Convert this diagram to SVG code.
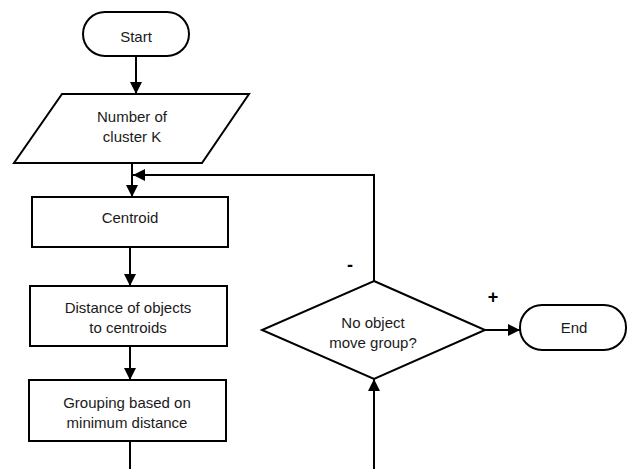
<svg xmlns="http://www.w3.org/2000/svg" width="629" height="469" viewBox="0 0 629 469">
<style>
.s{fill:#fff;stroke:#000;stroke-width:2}
.c{fill:none;stroke:#000;stroke-width:2}
text{font-family:"Liberation Sans",Arial,sans-serif;font-size:15px;fill:#1a1a1a;text-anchor:middle}
.l{font-size:18px;font-weight:bold;fill:#000}
</style>
<defs>
<marker id="ah" viewBox="0 0 12 12" refX="12" refY="6" markerWidth="12" markerHeight="12" markerUnits="userSpaceOnUse" orient="auto">
<path d="M0,0 L12,6 L0,12 Z" fill="#000"/>
</marker>
</defs>
<rect width="629" height="469" fill="#fff"/>
<g id="connectors">
<path class="c" d="M136,56 V94" marker-end="url(#ah)"/>
<path class="c" d="M132,163 V197" marker-end="url(#ah)"/>
<path class="c" d="M374,281 V175 H133" marker-end="url(#ah)"/>
<path class="c" d="M130,247 V286" marker-end="url(#ah)"/>
<path class="c" d="M130,346 V380" marker-end="url(#ah)"/>
<path class="c" d="M130,441 V480 H374 V379" marker-end="url(#ah)"/>
<path class="c" d="M485,330 H520" marker-end="url(#ah)"/>
<text class="l" x="350" y="271">-</text>
<text class="l" x="493" y="303">+</text>
</g>
<g id="start">
<rect class="s" x="83" y="12" width="106" height="44" rx="22"/>
<text x="136" y="42">Start</text>
</g>
<g id="input">
<polygon class="s" points="62,94 249,94 202,163 14,163"/>
<text x="132" y="122">Number of</text>
<text x="132" y="142">cluster K</text>
</g>
<g id="centroid">
<rect class="s" x="32" y="197" width="196" height="50"/>
<text x="130" y="223">Centroid</text>
</g>
<g id="distance">
<rect class="s" x="30" y="286" width="197" height="60"/>
<text x="128" y="313">Distance of objects</text>
<text x="128" y="333">to centroids</text>
</g>
<g id="grouping">
<rect class="s" x="29" y="380" width="197" height="61"/>
<text x="127" y="408">Grouping based on</text>
<text x="127" y="428">minimum distance</text>
</g>
<g id="decision">
<polygon class="s" points="374,281 485,330 374,379 262,330"/>
<text x="373" y="328">No object</text>
<text x="373" y="348">move group?</text>
</g>
<g id="end">
<rect class="s" x="520" y="305" width="106" height="45" rx="22"/>
<text x="574" y="333">End</text>
</g>
</svg>
